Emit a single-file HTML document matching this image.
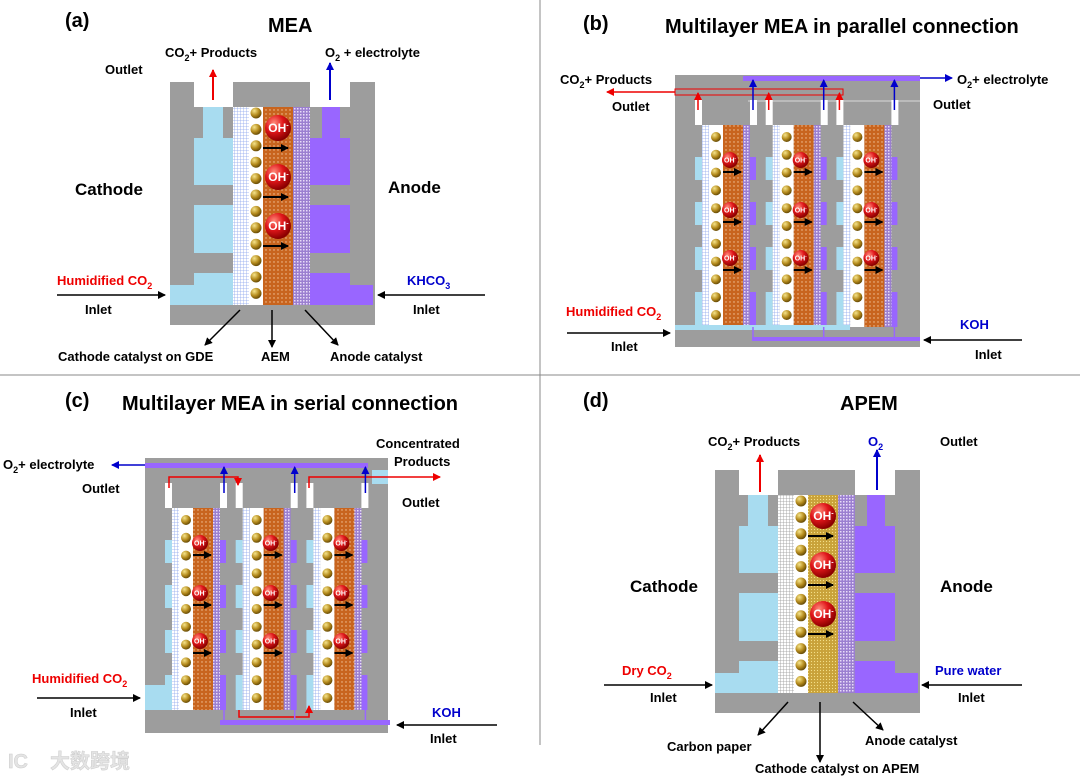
<!DOCTYPE html>
<html><head><meta charset="utf-8"><style>
html,body{margin:0;padding:0;background:#fff;}
svg{display:block;font-family:"Liberation Sans","Noto Sans CJK SC",sans-serif;font-weight:bold;}
</style></head><body>
<svg id="s" width="1080" height="780" viewBox="0 0 1080 780" xmlns="http://www.w3.org/2000/svg">
<defs>
<pattern id="mesh" width="3" height="3" patternUnits="userSpaceOnUse"><rect width="3" height="3" fill="#fff"/><path d="M0 0H3M0 0V3" stroke="#8fa8ee" stroke-width="0.8"/></pattern>
<pattern id="mesh2" width="3" height="3" patternUnits="userSpaceOnUse"><rect width="3" height="3" fill="#fff"/><path d="M0 0H3M0 0V3" stroke="#999" stroke-width="0.8"/></pattern>
<pattern id="org" width="4" height="4" patternUnits="userSpaceOnUse"><rect width="4" height="4" fill="#c8641e"/><circle cx="2" cy="2" r="0.7" fill="#f3c8a0"/></pattern>
<pattern id="gld" width="3" height="3" patternUnits="userSpaceOnUse"><rect width="3" height="3" fill="#c9a23a"/><circle cx="1.5" cy="1.5" r="0.6" fill="#f4e08a"/></pattern>
<pattern id="pur" width="3" height="3" patternUnits="userSpaceOnUse"><rect width="3" height="3" fill="#9b7fd0"/><rect width="1.5" height="1.5" fill="#e8dcf8"/></pattern>
<radialGradient id="rb" cx="0.35" cy="0.3" r="0.7"><stop offset="0" stop-color="#ff8a7a"/><stop offset="0.5" stop-color="#e0161a"/><stop offset="1" stop-color="#8a0000"/></radialGradient>
<radialGradient id="gb" cx="0.35" cy="0.3" r="0.7"><stop offset="0" stop-color="#f6e48a"/><stop offset="0.6" stop-color="#b48a1c"/><stop offset="1" stop-color="#6a4e08"/></radialGradient>
<marker id="ak" markerWidth="8" markerHeight="8" refX="7" refY="4" orient="auto" markerUnits="userSpaceOnUse"><path d="M0 0L8 4L0 8z" fill="#000"/></marker>
<marker id="ar" markerWidth="8" markerHeight="8" refX="7" refY="4" orient="auto" markerUnits="userSpaceOnUse"><path d="M0 0L8 4L0 8z" fill="#e00"/></marker>
<marker id="ab" markerWidth="8" markerHeight="8" refX="7" refY="4" orient="auto" markerUnits="userSpaceOnUse"><path d="M0 0L8 4L0 8z" fill="#00c"/></marker>
</defs>
<g id="shapes"></g>
<line x1="540" y1="0" x2="540" y2="745" stroke="#888" stroke-width="1"/>
<line x1="0" y1="375" x2="1080" y2="375" stroke="#888" stroke-width="1"/>
<g id="txt" font-size="13" fill="#000">
<text x="65" y="27" font-size="20">(a)</text>
<text x="268" y="32" font-size="20">MEA</text>
<text x="165" y="57">CO<tspan font-size="9" dy="4">2</tspan><tspan dy="-4">+ Products</tspan></text>
<text x="325" y="57">O<tspan font-size="9" dy="4">2</tspan><tspan dy="-4"> + electrolyte</tspan></text>
<text x="105" y="74">Outlet</text>
<text x="75" y="195" font-size="17">Cathode</text>
<text x="388" y="193" font-size="17">Anode</text>
<text x="57" y="285" fill="#e00">Humidified CO<tspan font-size="9" dy="4">2</tspan></text>
<text x="85" y="314">Inlet</text>
<text x="407" y="285" fill="#00c">KHCO<tspan font-size="9" dy="4">3</tspan></text>
<text x="413" y="314">Inlet</text>
<text x="58" y="361">Cathode catalyst on GDE</text>
<text x="261" y="361">AEM</text>
<text x="330" y="361">Anode catalyst</text>

<text x="583" y="30" font-size="20">(b)</text>
<text x="665" y="33" font-size="20">Multilayer MEA in parallel connection</text>
<text x="560" y="84">CO<tspan font-size="9" dy="4">2</tspan><tspan dy="-4">+ Products</tspan></text>
<text x="612" y="111">Outlet</text>
<text x="957" y="84">O<tspan font-size="9" dy="4">2</tspan><tspan dy="-4">+ electrolyte</tspan></text>
<text x="933" y="109">Outlet</text>
<text x="566" y="316" fill="#e00">Humidified CO<tspan font-size="9" dy="4">2</tspan></text>
<text x="611" y="351">Inlet</text>
<text x="960" y="329" fill="#00c">KOH</text>
<text x="975" y="359">Inlet</text>

<text x="65" y="407" font-size="20">(c)</text>
<text x="122" y="410" font-size="20">Multilayer MEA in serial  connection</text>
<text x="3" y="469">O<tspan font-size="9" dy="4">2</tspan><tspan dy="-4">+ electrolyte</tspan></text>
<text x="82" y="493">Outlet</text>
<text x="376" y="448">Concentrated</text>
<text x="394" y="466">Products</text>
<text x="402" y="507">Outlet</text>
<text x="32" y="683" fill="#e00">Humidified CO<tspan font-size="9" dy="4">2</tspan></text>
<text x="70" y="717">Inlet</text>
<text x="432" y="717" fill="#00c">KOH</text>
<text x="430" y="743">Inlet</text>

<text x="583" y="407" font-size="20">(d)</text>
<text x="840" y="410" font-size="20">APEM</text>
<text x="708" y="446">CO<tspan font-size="9" dy="4">2</tspan><tspan dy="-4">+ Products</tspan></text>
<text x="868" y="446" fill="#00c">O<tspan font-size="9" dy="4">2</tspan></text>
<text x="940" y="446">Outlet</text>
<text x="630" y="592" font-size="17">Cathode</text>
<text x="940" y="592" font-size="17">Anode</text>
<text x="622" y="675" fill="#e00">Dry  CO<tspan font-size="9" dy="4">2</tspan></text>
<text x="650" y="702">Inlet</text>
<text x="935" y="675" fill="#00c">Pure water</text>
<text x="958" y="702">Inlet</text>
<text x="667" y="751">Carbon paper</text>
<text x="755" y="773">Cathode catalyst on APEM</text>
<text x="865" y="745">Anode catalyst</text>
<text x="8" y="768" font-size="20" fill="#e4e4e4" stroke="#ccc" stroke-width="0.5">IC</text>
<text x="50" y="768" font-size="20" fill="#e4e4e4" stroke="#ccc" stroke-width="0.5">大数跨境</text>
</g>
<g id="oh" font-size="11" fill="#fff"></g>
</svg>
<script>
var S='',O='';
function r(x,y,w,h,f){S+='<rect x="'+x+'" y="'+y+'" width="'+w+'" height="'+h+'" fill="'+f+'"/>';}
function ln(x1,y1,x2,y2,c,m,w){S+='<line x1="'+x1+'" y1="'+y1+'" x2="'+x2+'" y2="'+y2+'" stroke="'+c+'" stroke-width="'+(w||1.5)+'"'+(m?' marker-end="url(#'+m+')"':'')+'/>';}
function c(x,y,rr,f){S+='<circle cx="'+x+'" cy="'+y+'" r="'+rr+'" fill="'+f+'"/>';}
function oh(x,y,rr,fs){c(x,y,rr,'url(#rb)');O+='<text x="'+(x-rr*0.75)+'" y="'+(y+fs*0.35)+'" font-size="'+fs+'">OH<tspan font-size="'+(fs*0.6)+'" dy="-'+(fs*0.4)+'">-</tspan></text>';}
var G='#9d9d9d',B='#a8dcf0',P='#9966ff';
// single cell (a) and (d)
function cell(dx,dy,mem,meshp){
 r(170+dx,82+dy,205,243,G);
 r(194+dx,82+dy,39,25,'#fff');r(310+dx,82+dy,40,25,'#fff');
 // cathode blue
 r(203+dx,107+dy,20,31,B);r(194+dx,138+dy,39,47,B);r(194+dx,205+dy,39,48,B);r(194+dx,273+dy,39,32,B);r(170+dx,285+dy,63,20,B);
 r(322+dx,107+dy,18,31,P);r(310+dx,138+dy,40,47,P);r(310+dx,205+dy,40,48,P);r(310+dx,273+dy,40,32,P);r(310+dx,285+dy,63,20,P);
 r(233+dx,107+dy,16,198,meshp);r(249+dx,107+dy,14,198,'#fff');r(263+dx,107+dy,30,198,mem);r(293+dx,107+dy,17,198,'url(#pur)');
 for(var i=0;i<12;i++)c(256+dx,113+dy+i*16.4,5.5,'url(#gb)');
 [128,177,226].forEach(function(y){oh(278+dx,y+dy,13,12);ln(263+dx,y+20+dy,288+dx,y+20+dy,'#000','ak',2);});
}
cell(0,0,'url(#org)','url(#mesh)');
cell(545,388,'url(#gld)','url(#mesh2)');
// multilayer units
function unit(x0,top,bot){
 r(x0,top,7,25,'#fff');r(x0+55,top,7,25,'#fff');
 var L=top+25;
 [[32,23],[77,23],[122,23],[167,bot-L-167]].forEach(function(b){r(x0,L+b[0],7,b[1],B);r(x0+55,L+b[0],6,b[1],P);});
 r(x0+7,L,7,bot-L,'url(#mesh)');r(x0+14,L,14,bot-L,'#fff');r(x0+28,L,20,bot-L,'url(#org)');r(x0+48,L,7,bot-L,'url(#pur)');
 for(var i=0;i<11;i++)c(x0+21,L+12+i*17.8,5,'url(#gb)');
 [35,85,133].forEach(function(y){oh(x0+35,L+y,8,7);ln(x0+28,L+y+12,x0+46,L+y+12,'#000','ak',2);});
}
// (b)
r(675,75,245,272,G);r(748,100,172,2,'#bbb');
for(var k=0;k<3;k++)unit(695+k*70.7,100,327);
r(675,325,175,5,B);r(743,76,177,5,P);r(752,337,168,4,P);
S+='<rect x="675" y="89" width="168" height="6" fill="none" stroke="#e00" stroke-width="1"/>';
for(var k=0;k<3;k++){ln(698+k*70.7,110,698+k*70.7,93,'#e00','ar');ln(753+k*70.7,110,753+k*70.7,80,'#00c','ab');ln(753+k*70.7,327,753+k*70.7,340,'#9966ff','',1.5);}
ln(675,92,607,92,'#e00','ar');ln(920,78,952,78,'#00c','ab');
ln(567,333,670,333,'#000','ak');ln(1022,340,924,340,'#000','ak');
// (c)
r(145,458,243,275,G);
for(var k=0;k<3;k++)unit(165+k*70.7,483,710);
r(145,463,223,5,P);r(220,720,170,5,P);r(145,685,22,25,B);r(372,470,16,14,B);
S+='<polyline points="169,488 169,477 238,477 238,485" fill="none" stroke="#e00" stroke-width="1.5" marker-end="url(#ar)"/>';
S+='<polyline points="309,488 309,477 388,477 440,477" fill="none" stroke="#e00" stroke-width="1.5" marker-end="url(#ar)"/>';
S+='<polyline points="239,710 239,717 309,717 309,706" fill="none" stroke="#e00" stroke-width="1.5" marker-end="url(#ar)"/>';
for(var k=0;k<3;k++){ln(224+k*70.7,493,224+k*70.7,467,'#00c','ab');ln(224+k*70.7,710,224+k*70.7,722,'#9966ff','',1.5);}
ln(145,465,112,465,'#00c','ab');
ln(37,698,140,698,'#000','ak');ln(497,725,397,725,'#000','ak');
// (a) arrows
ln(213,100,213,70,'#e00','ar',2);ln(330,100,330,63,'#00c','ab',2);
ln(57,295,165,295,'#000','ak');ln(485,295,378,295,'#000','ak');
ln(240,310,205,345,'#000','ak');ln(272,310,272,347,'#000','ak');ln(305,310,338,345,'#000','ak');
// (d) arrows
ln(760,492,760,455,'#e00','ar',2);ln(877,490,877,450,'#00c','ab',2);
ln(604,685,712,685,'#000','ak');ln(1022,685,922,685,'#000','ak');
ln(788,702,758,735,'#000','ak');ln(820,702,820,762,'#000','ak');ln(853,702,883,730,'#000','ak');
document.getElementById('shapes').innerHTML=S;
document.getElementById('oh').innerHTML=O;
</script>
</body></html>
